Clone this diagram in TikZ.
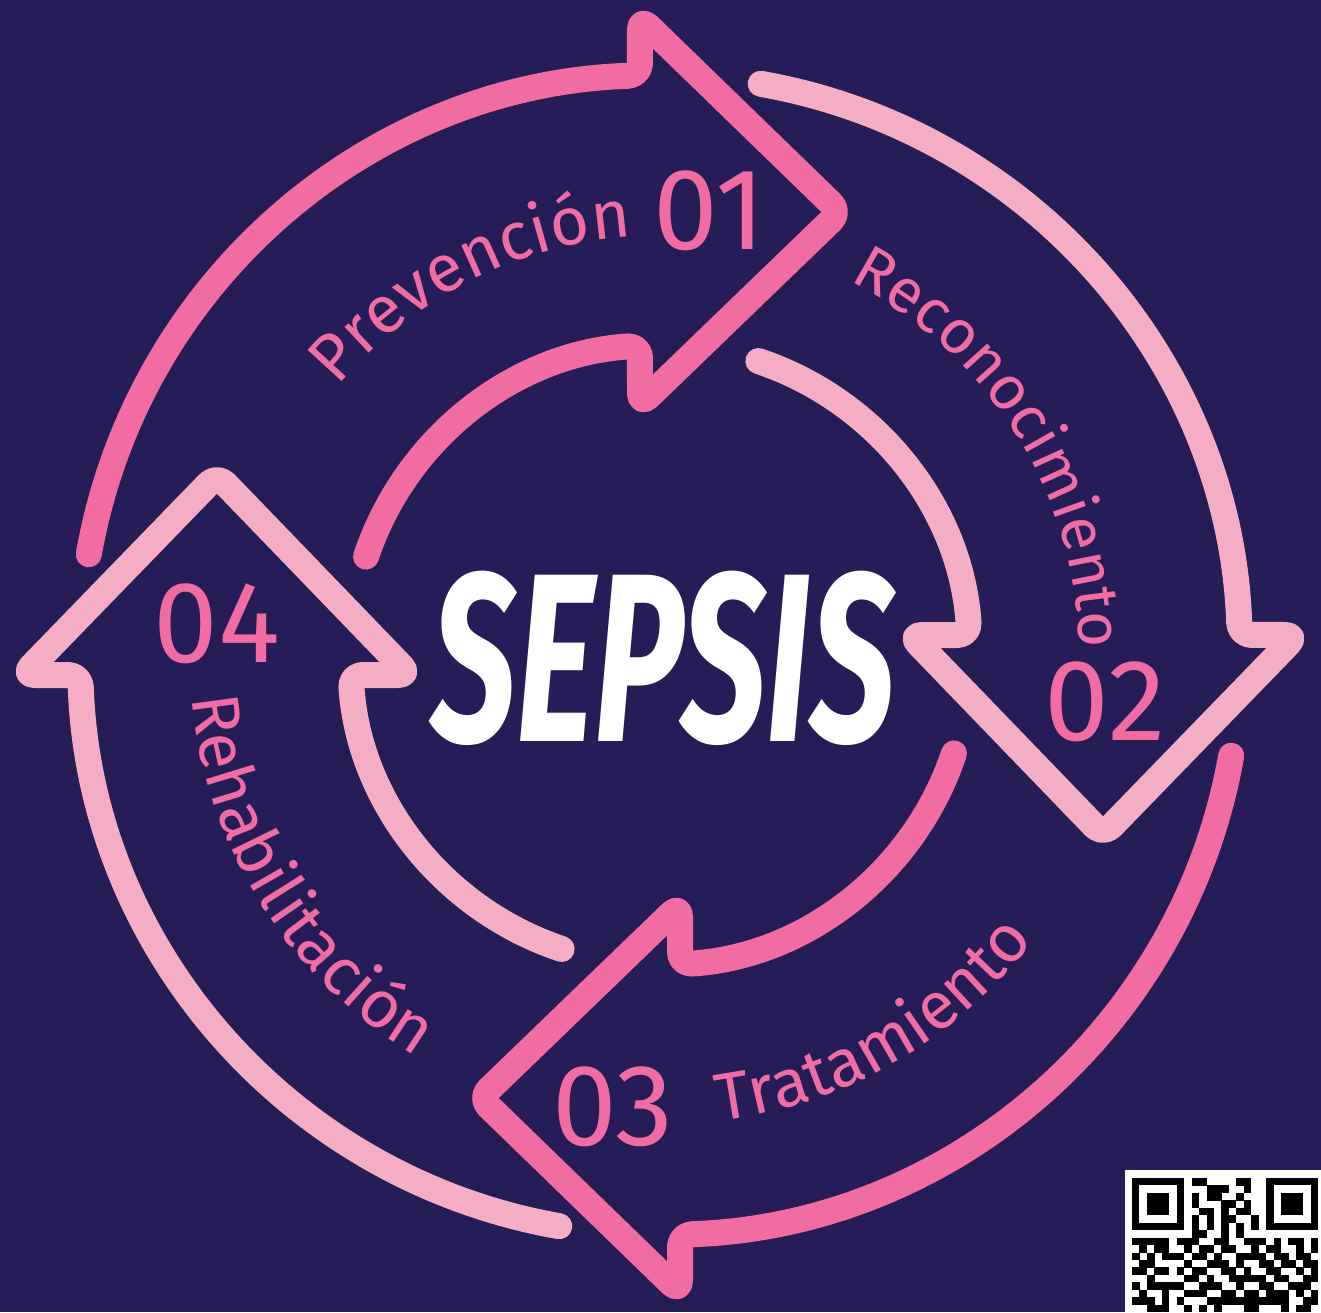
\documentclass[tikz,border=0pt]{standalone}
\usepackage{fontspec}
\setmainfont{Fira Sans}
\usetikzlibrary{decorations.text}
\definecolor{bgnavy}{HTML}{261C57}
\definecolor{pinkA}{HTML}{F06CA3}
\definecolor{pinkB}{HTML}{F4ADC5}
\tikzset{
  band/.style={line width=26pt, line cap=round, line join=round, rounded corners=12pt},
  stepnum/.style={font=\fontsize{116}{116}\selectfont, text=pinkA, inner sep=0pt, anchor=base},
  steplabel/.style 2 args={decorate, decoration={text along path, text align=center,
      text color=pinkA, text={|\fontsize{#2}{#2}\selectfont|#1}}},
  cyclearrow/.pic={
    \draw[band] (170:580) arc[start angle=170, end angle=91.98, radius=580]
      -- (-20,637) -- (180,443) -- (-20,250) -- (93.7:310)
      arc[start angle=93.7, end angle=161.5, radius=310];
  },
  qrdot/.style={fill=black}
}

\begin{document}
\begin{tikzpicture}[x=1pt, y=1pt]
    \fill[bgnavy] (-660,-657) rectangle (661,655);
    \useasboundingbox (-660,-657) rectangle (661,655);

    % the four steps of the cycle
    \pic[color=pinkA] at (0,0) {cyclearrow};
    \pic[color=pinkB, rotate=-90] at (0,0) {cyclearrow};
    \pic[color=pinkA, rotate=-180] at (0,0) {cyclearrow};
    \pic[color=pinkB, rotate=-270] at (0,0) {cyclearrow};

    \node[stepnum] (n01) at (50,405) {01};
    \node[stepnum] (n02) at (445,-85) {02};
    \node[stepnum] (n03) at (-47,-490) {03};
    \node[stepnum] (n04) at (-443,-7) {04};

    \path[steplabel={Prevención}{67}] (177:419) arc[start angle=177, end angle=57, radius=419];
    \path[steplabel={Reconocimiento}{62}] (92:419) arc[start angle=92, end angle=-28, radius=419];
    \path[steplabel={Tratamiento}{67}] (-120:470) arc[start angle=-120, end angle=0, radius=470];
    \path[steplabel={Rehabilitación}{67}] (152:470) arc[start angle=152, end angle=272, radius=470];

    \node[text=white, font=\fontsize{240}{240}\selectfont\bfseries\itshape] (title) at (3,-3)
        {\scalebox{0.63}[1]{SEPSIS}};

    % qr code in the corner
    \begin{scope}
    \clip (465,-515) rectangle (661,-657);
    \fill[white] (465,-515) rectangle (661,-657);
    \foreach \x in {472,606.1} {
        \fill[black] (\x,-523) rectangle ++(52.15,-52.15);
        \fill[white] (\x+7.45,-530.45) rectangle ++(37.25,-37.25);
        \fill[black] (\x+14.9,-537.9) rectangle ++(22.35,-22.35);
    }
    \foreach \r/\cols in {0/{8,9,14,15}, 1/{10,11,12,15}, 2/{8,10,11,14}, 3/{8,12,13,15},
        4/{9,10,12,14,15}, 5/{8,10,12,13,16}, 6/{8,10,12,14,16}, 7/{8,9,12,14},
        8/{0,1,2,3,4,6,7,8,11,12,15,16,17,19,21,22,24},
        9/{1,3,4,7,9,10,12,13,16,18,19,22,24},
        10/{0,2,4,5,6,8,9,11,14,15,16,17,19,20,22,23},
        11/{1,2,7,10,11,12,14,17,18,20,21,23,24},
        12/{0,1,3,4,6,8,9,12,13,15,18,19,22,24},
        13/{2,7,8,10,13,14,15,16,17,19,20,23,24},
        14/{0,2,3,4,5,6,9,10,11,14,17,18,21,22,23},
        15/{1,4,7,8,9,12,13,15,16,18,19,20,22,24},
        16/{0,1,2,4,6,10,11,12,13,14,15,16,17,18,19,20,23,24},
        17/{2,3,4,7,9,11,15,16,20,22,23}}
        \foreach \c in \cols
            \fill[qrdot] (472+\c*7.45,-523-\r*7.45) rectangle ++(7.6,-7.6);
    \end{scope}
\end{tikzpicture}
\end{document}
